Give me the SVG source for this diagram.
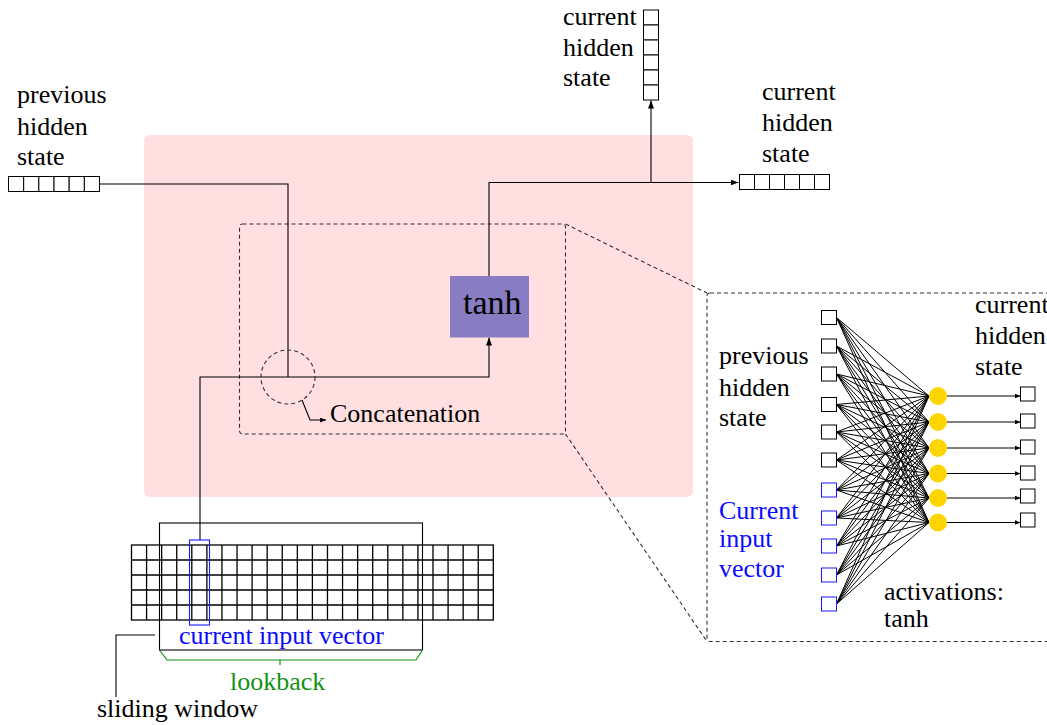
<svg xmlns="http://www.w3.org/2000/svg" width="1047" height="725" viewBox="0 0 1047 725">
<style>
text{font-family:"Liberation Serif","Times New Roman",serif;font-size:26px;fill:#000}
.blue{fill:#0a0aff}
.green{fill:#139313}
.ln{fill:none;stroke:#000;stroke-width:1.1}
.grid{fill:none;stroke:#000;stroke-width:1.3}
.thin{fill:none;stroke:#000;stroke-width:1}
.cell{fill:#fff;stroke:#000;stroke-width:1}
.bcell{fill:#fff;stroke:#1a1aff;stroke-width:1}
.dash{fill:none;stroke:#333;stroke-width:1.1;stroke-dasharray:4 3}
</style>
<defs>
<marker id="arr" markerWidth="9" markerHeight="6" refX="8" refY="3" orient="auto" markerUnits="userSpaceOnUse">
<path d="M0,0 L8,3 L0,6 z" fill="#000"/>
</marker>
<marker id="arrs" markerWidth="7" markerHeight="5" refX="6" refY="2.5" orient="auto" markerUnits="userSpaceOnUse">
<path d="M0,0 L6,2.5 L0,5 z" fill="#000"/>
</marker>
</defs>
<rect width="1047" height="725" fill="#fff"/>

<g id="rnn-cell">
<rect x="144" y="135" width="549" height="362" rx="6" fill="#ffdfdf"/>
</g>

<g id="zoom-region">
<rect x="239.5" y="224" width="326" height="210" rx="3" class="dash"/>
</g>

<g id="zoom-box">
<rect x="707" y="293" width="360" height="348.5" rx="3" class="dash"/>
</g>

<g id="zoom-links">
<line x1="565.5" y1="224" x2="707" y2="293" class="dash"/>
<line x1="565.5" y1="434" x2="707" y2="641.5" class="dash"/>
</g>

<g id="connectors">
<path d="M99 184 H288 V377" class="ln"/>
<path d="M200 540 V377 H489 V337.5" class="ln" marker-end="url(#arr)"/>
<path d="M489 276 V182.5 H738.5" class="ln" marker-end="url(#arr)"/>
<path d="M651 182.5 V100.5" class="ln" marker-end="url(#arr)"/>
<path d="M302 400 L310 420 H326" class="ln" marker-end="url(#arrs)"/>
<path d="M155 635 H116 V697" class="ln"/>
</g>

<g id="concatenation">
<circle cx="288" cy="377" r="27" class="dash"/>
<text x="330" y="422">Concatenation</text>
</g>

<g id="tanh">
<rect x="450" y="276" width="79" height="61.5" fill="#887dc2"/>
<text x="463" y="314" style="font-size:34px">tanh</text>
</g>

<g id="previous-hidden-state">
<text x="17" y="103">previous</text>
<text x="17" y="135">hidden</text>
<text x="17" y="165">state</text>
<g class="cell">
<rect x="8.5" y="176.5" width="15.17" height="15"/>
<rect x="23.67" y="176.5" width="15.17" height="15"/>
<rect x="38.84" y="176.5" width="15.17" height="15"/>
<rect x="54.01" y="176.5" width="15.17" height="15"/>
<rect x="69.18" y="176.5" width="15.17" height="15"/>
<rect x="84.35" y="176.5" width="15.17" height="15"/>
</g>
</g>

<g id="current-hidden-state-top">
<text x="563" y="25">current</text>
<text x="563" y="56">hidden</text>
<text x="563" y="86">state</text>
<g class="cell">
<rect x="643.5" y="10" width="15" height="15"/>
<rect x="643.5" y="25" width="15" height="15"/>
<rect x="643.5" y="40" width="15" height="15"/>
<rect x="643.5" y="55" width="15" height="15"/>
<rect x="643.5" y="70" width="15" height="15"/>
<rect x="643.5" y="85" width="15" height="15"/>
</g>
</g>

<g id="current-hidden-state-right">
<text x="762" y="100">current</text>
<text x="762" y="131">hidden</text>
<text x="762" y="162">state</text>
<g class="cell">
<rect x="739.5" y="174.5" width="15" height="15"/>
<rect x="754.5" y="174.5" width="15" height="15"/>
<rect x="769.5" y="174.5" width="15" height="15"/>
<rect x="784.5" y="174.5" width="15" height="15"/>
<rect x="799.5" y="174.5" width="15" height="15"/>
<rect x="814.5" y="174.5" width="15" height="15"/>
</g>
</g>

<g id="input-sequence">
<rect x="131.5" y="545" width="361.8" height="75" fill="#fff" stroke="#000" stroke-width="1.3"/>
<path class="grid" d="M131.5 560 H493.3 M131.5 575 H493.3 M131.5 590 H493.3 M131.5 605 H493.3
M146.58 545 V620 M161.65 545 V620 M176.73 545 V620 M191.8 545 V620 M206.88 545 V620 M221.95 545 V620 M237.03 545 V620 M252.1 545 V620 M267.18 545 V620 M282.25 545 V620 M297.33 545 V620 M312.4 545 V620 M327.48 545 V620 M342.55 545 V620 M357.63 545 V620 M372.7 545 V620 M387.78 545 V620 M402.85 545 V620 M417.93 545 V620 M433 545 V620 M448.08 545 V620 M463.15 545 V620 M478.23 545 V620"/>
</g>

<g id="sliding-window">
<rect x="159.5" y="523" width="263" height="127" class="ln"/>
<text x="97" y="717">sliding window</text>
</g>

<g id="current-input-vector">
<rect x="189.5" y="540" width="20" height="85" fill="none" stroke="#1a1aff" stroke-width="1.1"/>
<text x="179" y="644" class="blue">current input vector</text>
</g>

<g id="lookback">
<path d="M159.5 650 L167 660 H416 L422.5 650 M280 660 V665" fill="none" stroke="#139313" stroke-width="1.2"/>
<text x="230" y="690" class="green">lookback</text>
</g>

<g id="dense-layer">
<text x="719" y="364">previous</text>
<text x="719" y="396">hidden</text>
<text x="719" y="426">state</text>
<text x="719" y="519" class="blue">Current</text>
<text x="719" y="547" class="blue">input</text>
<text x="719" y="577" class="blue">vector</text>
<text x="975" y="313">current</text>
<text x="975" y="344">hidden</text>
<text x="975" y="375">state</text>
<text x="884" y="600">activations:</text>
<text x="884" y="627">tanh</text>

<g id="nn-weights" class="thin">
<path d="M836.5 317.5 L929 396 M836.5 317.5 L929 422 M836.5 317.5 L929 448 M836.5 317.5 L929 473.5 M836.5 317.5 L929 498 M836.5 317.5 L929 522.5
M836.5 346 L929 396 M836.5 346 L929 422 M836.5 346 L929 448 M836.5 346 L929 473.5 M836.5 346 L929 498 M836.5 346 L929 522.5
M836.5 374 L929 396 M836.5 374 L929 422 M836.5 374 L929 448 M836.5 374 L929 473.5 M836.5 374 L929 498 M836.5 374 L929 522.5
M836.5 404.5 L929 396 M836.5 404.5 L929 422 M836.5 404.5 L929 448 M836.5 404.5 L929 473.5 M836.5 404.5 L929 498 M836.5 404.5 L929 522.5
M836.5 432 L929 396 M836.5 432 L929 422 M836.5 432 L929 448 M836.5 432 L929 473.5 M836.5 432 L929 498 M836.5 432 L929 522.5
M836.5 460 L929 396 M836.5 460 L929 422 M836.5 460 L929 448 M836.5 460 L929 473.5 M836.5 460 L929 498 M836.5 460 L929 522.5
M836.5 490 L929 396 M836.5 490 L929 422 M836.5 490 L929 448 M836.5 490 L929 473.5 M836.5 490 L929 498 M836.5 490 L929 522.5
M836.5 518 L929 396 M836.5 518 L929 422 M836.5 518 L929 448 M836.5 518 L929 473.5 M836.5 518 L929 498 M836.5 518 L929 522.5
M836.5 546 L929 396 M836.5 546 L929 422 M836.5 546 L929 448 M836.5 546 L929 473.5 M836.5 546 L929 498 M836.5 546 L929 522.5
M836.5 575 L929 396 M836.5 575 L929 422 M836.5 575 L929 448 M836.5 575 L929 473.5 M836.5 575 L929 498 M836.5 575 L929 522.5
M836.5 604 L929 396 M836.5 604 L929 422 M836.5 604 L929 448 M836.5 604 L929 473.5 M836.5 604 L929 498 M836.5 604 L929 522.5"/>
</g>

<g id="nn-inputs">
<g class="cell">
<rect x="821.5" y="310.5" width="15" height="14"/>
<rect x="821.5" y="339" width="15" height="14"/>
<rect x="821.5" y="367" width="15" height="14"/>
<rect x="821.5" y="397.5" width="15" height="14"/>
<rect x="821.5" y="425" width="15" height="14"/>
<rect x="821.5" y="453" width="15" height="14"/>
</g>
<g class="bcell">
<rect x="821.5" y="483" width="15" height="14"/>
<rect x="821.5" y="511" width="15" height="14"/>
<rect x="821.5" y="539" width="15" height="14"/>
<rect x="821.5" y="568" width="15" height="14"/>
<rect x="821.5" y="597" width="15" height="14"/>
</g>
</g>

<g id="nn-outputs-links" class="thin">
<line x1="947" y1="396" x2="1020.5" y2="396" marker-end="url(#arrs)"/>
<line x1="947" y1="422" x2="1020.5" y2="422" marker-end="url(#arrs)"/>
<line x1="947" y1="448" x2="1020.5" y2="448" marker-end="url(#arrs)"/>
<line x1="947" y1="473.5" x2="1020.5" y2="473.5" marker-end="url(#arrs)"/>
<line x1="947" y1="498" x2="1020.5" y2="498" marker-end="url(#arrs)"/>
<line x1="947" y1="522.5" x2="1020.5" y2="522.5" marker-end="url(#arrs)"/>
</g>

<g id="nn-activations" fill="#ffd500">
<circle cx="938" cy="396" r="9"/>
<circle cx="938" cy="422" r="9"/>
<circle cx="938" cy="448" r="9"/>
<circle cx="938" cy="473.5" r="9"/>
<circle cx="938" cy="498" r="9"/>
<circle cx="938" cy="522.5" r="9"/>
</g>

<g id="nn-outputs" class="cell">
<rect x="1020.5" y="387" width="14.5" height="14"/>
<rect x="1020.5" y="414" width="14.5" height="14"/>
<rect x="1020.5" y="440" width="14.5" height="14"/>
<rect x="1020.5" y="466" width="14.5" height="14"/>
<rect x="1020.5" y="489" width="14.5" height="14"/>
<rect x="1020.5" y="513" width="14.5" height="14"/>
</g>
</g>
</svg>
